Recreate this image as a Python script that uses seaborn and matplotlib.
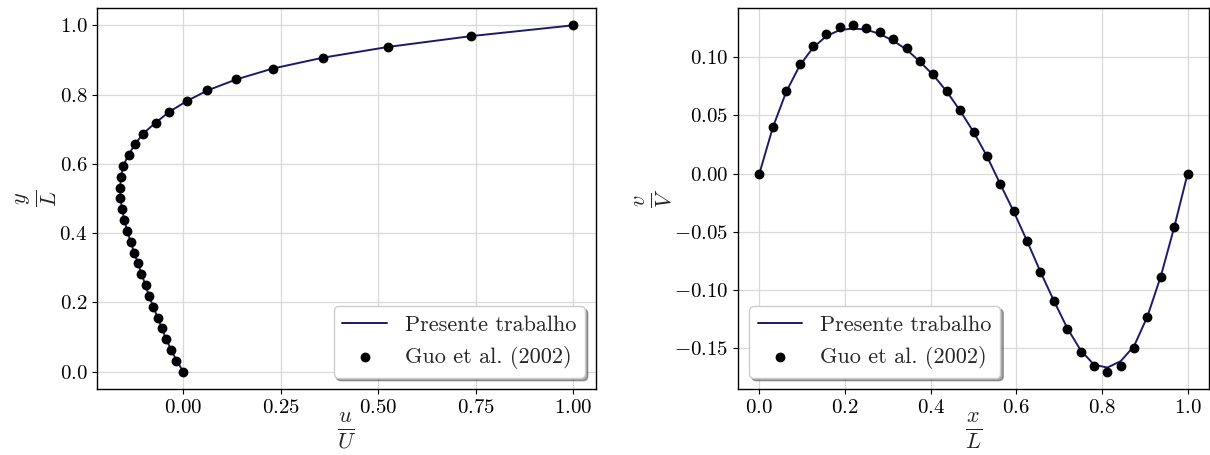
import matplotlib
matplotlib.use("Agg")
import matplotlib.pyplot as plt
from matplotlib.ticker import MultipleLocator
import seaborn as sns
import pandas as pd

# Horizontal velocity along the vertical centreline
y_pos = [0.0, 0.03125, 0.0625, 0.09375, 0.125, 0.15625, 0.1875, 0.21875, 0.25,
         0.28125, 0.3125, 0.34375, 0.375, 0.40625, 0.4375, 0.46875, 0.5,
         0.53125, 0.5625, 0.59375, 0.625, 0.65625, 0.6875, 0.71875, 0.75,
         0.78125, 0.8125, 0.84375, 0.875, 0.90625, 0.9375, 0.96875, 1.0]
u_present = [0.0, -0.017, -0.031, -0.044, -0.055, -0.066, -0.077, -0.088, -0.097,
             -0.107, -0.116, -0.126, -0.135, -0.144, -0.151, -0.157, -0.161,
             -0.162, -0.160, -0.154, -0.141, -0.124, -0.103, -0.071, -0.036,
             0.009, 0.063, 0.136, 0.229, 0.357, 0.525, 0.738, 1.0]
u_guo = [0.0, -0.018, -0.031, -0.045, -0.055, -0.066, -0.078, -0.088, -0.0965,
         -0.108, -0.1155, -0.127, -0.134, -0.145, -0.152, -0.158, -0.162,
         -0.163, -0.161, -0.155, -0.140, -0.124, -0.104, -0.071, -0.036,
         0.0086, 0.062, 0.135, 0.229, 0.357, 0.525, 0.738, 1.0]

# Vertical velocity along the horizontal centreline
x_pos = [0.0, 0.03125, 0.0625, 0.09375, 0.125, 0.15625, 0.1875, 0.21875, 0.25,
         0.28125, 0.3125, 0.34375, 0.375, 0.40625, 0.4375, 0.46875, 0.5,
         0.53125, 0.5625, 0.59375, 0.625, 0.65625, 0.6875, 0.71875, 0.75,
         0.78125, 0.8125, 0.84375, 0.875, 0.90625, 0.9375, 0.96875, 1.0]
v_present = [0.0, 0.0395, 0.0700, 0.0925, 0.1080, 0.1180, 0.1232, 0.1245, 0.1236,
             0.1198, 0.1140, 0.1065, 0.0960, 0.0845, 0.0705, 0.0540, 0.0358,
             0.0150, -0.0090, -0.0325, -0.0578, -0.0842, -0.1090, -0.1325,
             -0.1515, -0.1640, -0.1665, -0.1610, -0.1480, -0.1225, -0.0880,
             -0.0460, 0.0]
v_guo = [0.0, 0.0401, 0.0711, 0.0937, 0.1098, 0.1198, 0.1255, 0.1273, 0.1253,
         0.1216, 0.1152, 0.1077, 0.0967, 0.0851, 0.0711, 0.0545, 0.0361,
         0.0152, -0.0089, -0.0324, -0.0579, -0.0848, -0.1097, -0.1335,
         -0.153, -0.165, -0.170, -0.165, -0.150, -0.1235, -0.0885,
         -0.0458, 0.0]

label_line = "Presente trabalho"
label_ref = "Guo et al. (2002)"

sns.set_style("ticks")
plt.rcParams.update({
    "font.family": "serif",
    "font.serif": ["cmr10"],
    "mathtext.fontset": "cm",
    "axes.formatter.use_mathtext": True,
    "axes.unicode_minus": True,
    "axes.edgecolor": "black",
    "axes.linewidth": 1.0,
    "xtick.color": "black",
    "ytick.color": "black",
    "xtick.labelsize": 15,
    "ytick.labelsize": 15,
})

line_color = "#1b1b6e"

fig = plt.figure(figsize=(12.1, 4.55), dpi=100)
ax1 = fig.add_axes([0.0802, 0.1451, 0.4124, 0.8374])
ax2 = fig.add_axes([0.6099, 0.1451, 0.3893, 0.8374])

df_u_line = pd.DataFrame({"u": u_present, "y": y_pos})
df_u_ref = pd.DataFrame({"u": u_guo, "y": y_pos})
df_v_line = pd.DataFrame({"x": x_pos, "v": v_present})
df_v_ref = pd.DataFrame({"x": x_pos, "v": v_guo})

sns.lineplot(data=df_u_line, x="u", y="y", sort=False, estimator=None,
             color=line_color, linewidth=1.4, label=label_line, ax=ax1)
sns.scatterplot(data=df_u_ref, x="u", y="y", color="black", s=50,
                edgecolor="black", linewidth=0, label=label_ref, ax=ax1, zorder=3)

sns.lineplot(data=df_v_line, x="x", y="v", sort=False, estimator=None,
             color=line_color, linewidth=1.4, label=label_line, ax=ax2)
sns.scatterplot(data=df_v_ref, x="x", y="v", color="black", s=50,
                edgecolor="black", linewidth=0, label=label_ref, ax=ax2, zorder=3)

ax1.xaxis.set_major_locator(MultipleLocator(0.25))

for ax in (ax1, ax2):
    ax.grid(True, color="#d9d9d9", linewidth=0.9)
    ax.set_axisbelow(True)
    for sp in ax.spines.values():
        sp.set_visible(True)
        sp.set_color("black")

ax1.set_xlabel(r"$\frac{u}{U}$", fontsize=23, labelpad=-4)
ax1.set_ylabel(r"$\frac{y}{L}$", fontsize=23, labelpad=0)
ax2.set_xlabel(r"$\frac{x}{L}$", fontsize=23, labelpad=-4)
ax2.set_ylabel(r"$\frac{v}{V}$", fontsize=23, labelpad=0)

ax1.legend(loc="lower right", fontsize=16, shadow=True, framealpha=1,
           fancybox=True)
ax2.legend(loc="lower left", fontsize=16, shadow=True, framealpha=1,
           fancybox=True)

fig.savefig("out.png", dpi=100)
